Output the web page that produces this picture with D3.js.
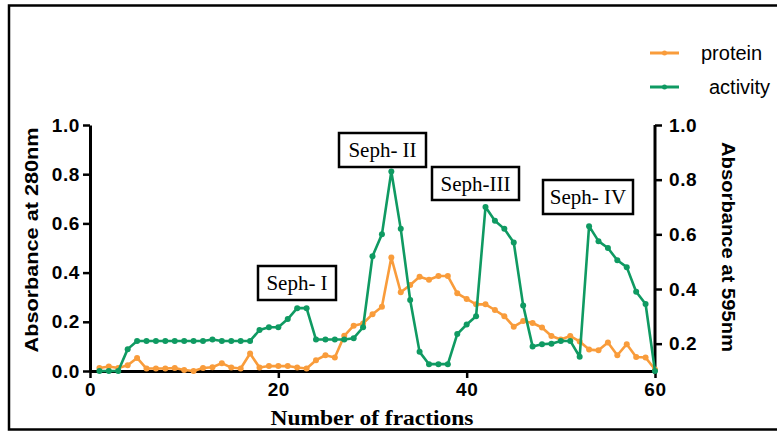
<!DOCTYPE html>
<html><head><meta charset="utf-8">
<script src="https://cdn.jsdelivr.net/npm/d3@7"></script>
<style>body{margin:0;background:#fff}svg{display:block}</style>
</head><body>
<svg id="c" width="777" height="433"></svg>
<script>
const fractions = d3.range(1, 61);
const protein = [0.012,0.018,0.012,0.023,0.053,0.010,0.010,0.010,0.012,0.004,
  0.000,0.012,0.015,0.032,0.014,0.010,0.071,0.014,0.020,0.020,
  0.020,0.014,0.010,0.044,0.064,0.055,0.143,0.184,0.193,0.231,
  0.261,0.461,0.320,0.350,0.383,0.371,0.386,0.386,0.316,0.293,
  0.271,0.271,0.248,0.223,0.180,0.203,0.195,0.177,0.142,0.128,
  0.142,0.120,0.087,0.084,0.116,0.064,0.109,0.057,0.055,0.006];
const activity = [0.10,0.10,0.10,0.18,0.21,0.21,0.21,0.21,0.21,0.21,
  0.21,0.21,0.215,0.21,0.21,0.21,0.21,0.25,0.26,0.26,
  0.29,0.33,0.33,0.215,0.215,0.215,0.215,0.22,0.26,0.52,
  0.60,0.83,0.62,0.36,0.17,0.125,0.125,0.125,0.235,0.27,
  0.30,0.70,0.65,0.62,0.57,0.34,0.19,0.198,0.20,0.21,
  0.21,0.152,0.63,0.575,0.55,0.505,0.48,0.39,0.345,0.10];
const xTicks = [0, 20, 40, 60];
const leftTicks = [0, 0.2, 0.4, 0.6, 0.8, 1.0];
const rightTicks = [0.2, 0.4, 0.6, 0.8, 1.0];
const peaks = ["Seph- I", "Seph- II", "Seph-III", "Seph- IV"];

const ORANGE = "#f99c3b", GREEN = "#0f9a62";
const svg = d3.select("#c");
const x = d3.scaleLinear().domain([0, 60]).range([90, 655]);
const yL = d3.scaleLinear().domain([0, 1]).range([371, 125]);
const yR = d3.scaleLinear().domain([0.1, 1]).range([371, 125]);

// outer frame
svg.append("path").attr("d", "M 790 5.5 H 9 V 429.5 H 790")
  .attr("fill", "none").attr("stroke", "#000").attr("stroke-width", 2.5);

const sans = "'Liberation Sans', Arial, sans-serif";
const serif = "'Liberation Serif', 'Times New Roman', serif";

function styleAxis(g) {
  g.selectAll("path").attr("stroke-width", 3);
  g.selectAll("line").attr("stroke-width", 2.5);
  g.selectAll("text").attr("font-family", sans).attr("font-weight", "bold")
    .attr("font-size", 19).attr("letter-spacing", 0.6).attr("fill", "#000");
}

svg.append("g").attr("transform", "translate(0,371)")
  .call(d3.axisBottom(x).tickValues(xTicks).tickFormat(d3.format("d")).tickSize(7).tickSizeOuter(0).tickPadding(5))
  .call(styleAxis);
svg.append("g").attr("transform", "translate(90,0)")
  .call(d3.axisLeft(yL).tickValues(leftTicks).tickFormat(d3.format(".1f")).tickSize(7).tickSizeOuter(0).tickPadding(3))
  .call(styleAxis);
const rAx = svg.append("g").attr("transform", "translate(655,0)")
  .call(d3.axisRight(yR).tickValues(rightTicks).tickFormat(d3.format(".1f")).tickSize(7).tickSizeOuter(0).tickPadding(7))
  .call(styleAxis);
rAx.select("path.domain").attr("d", "M0,125V374");

// lines
const lineP = d3.line().x((d, i) => x(fractions[i])).y(d => yL(d));
const lineA = d3.line().x((d, i) => x(fractions[i])).y(d => yR(d));
svg.append("path").datum(protein).attr("d", lineP).attr("fill", "none")
  .attr("stroke", ORANGE).attr("stroke-width", 2.6).attr("stroke-linejoin", "round");
svg.append("g").selectAll("circle").data(protein).join("circle")
  .attr("cx", (d, i) => x(fractions[i])).attr("cy", d => yL(d)).attr("r", 3).attr("fill", ORANGE);
svg.append("path").datum(activity).attr("d", lineA).attr("fill", "none")
  .attr("stroke", GREEN).attr("stroke-width", 2.6).attr("stroke-linejoin", "round");
svg.append("g").selectAll("circle").data(activity).join("circle")
  .attr("cx", (d, i) => x(fractions[i])).attr("cy", d => yR(d)).attr("r", 3).attr("fill", GREEN);

// peak labels
const boxes = [
  {x: 258, y: 266, w: 78, h: 34},
  {x: 339, y: 133, w: 87, h: 34},
  {x: 432, y: 167, w: 87, h: 33},
  {x: 543, y: 180, w: 90, h: 34}
];
peaks.forEach((p, i) => {
  const b = boxes[i];
  svg.append("rect").attr("x", b.x).attr("y", b.y).attr("width", b.w).attr("height", b.h)
    .attr("fill", "#fff").attr("stroke", "#000").attr("stroke-width", 2.5);
  svg.append("text").attr("x", b.x + b.w / 2).attr("y", b.y + b.h / 2 + 7)
    .attr("text-anchor", "middle").attr("font-family", serif).attr("font-size", 21)
    .text(p);
});

// axis titles
svg.append("text").attr("transform", "translate(38,240) rotate(-90)")
  .attr("text-anchor", "middle").attr("font-family", sans).attr("font-weight", "bold")
  .attr("font-size", 19).attr("textLength", 225).attr("lengthAdjust", "spacingAndGlyphs")
  .text("Absorbance at 280nm");
svg.append("text").attr("transform", "translate(722,247) rotate(90)")
  .attr("text-anchor", "middle").attr("font-family", sans).attr("font-weight", "bold")
  .attr("font-size", 19).attr("textLength", 210).attr("lengthAdjust", "spacingAndGlyphs")
  .text("Absorbance at 595nm");
svg.append("text").attr("x", 372).attr("y", 425)
  .attr("text-anchor", "middle").attr("font-family", serif).attr("font-weight", "bold")
  .attr("font-size", 22).attr("textLength", 203).attr("lengthAdjust", "spacingAndGlyphs")
  .text("Number of fractions");

// legend
const legend = [{name: "protein", color: ORANGE, y: 53, tx: 701}, {name: "activity", color: GREEN, y: 87, tx: 709}];
legend.forEach(l => {
  svg.append("line").attr("x1", 650).attr("x2", 679).attr("y1", l.y).attr("y2", l.y)
    .attr("stroke", l.color).attr("stroke-width", 3);
  svg.append("circle").attr("cx", 664.5).attr("cy", l.y).attr("r", 2.5).attr("fill", l.color);
  svg.append("text").attr("x", l.tx).attr("y", l.y + 7).attr("font-family", sans)
    .attr("font-size", 20).text(l.name);
});
</script>
</body></html>
